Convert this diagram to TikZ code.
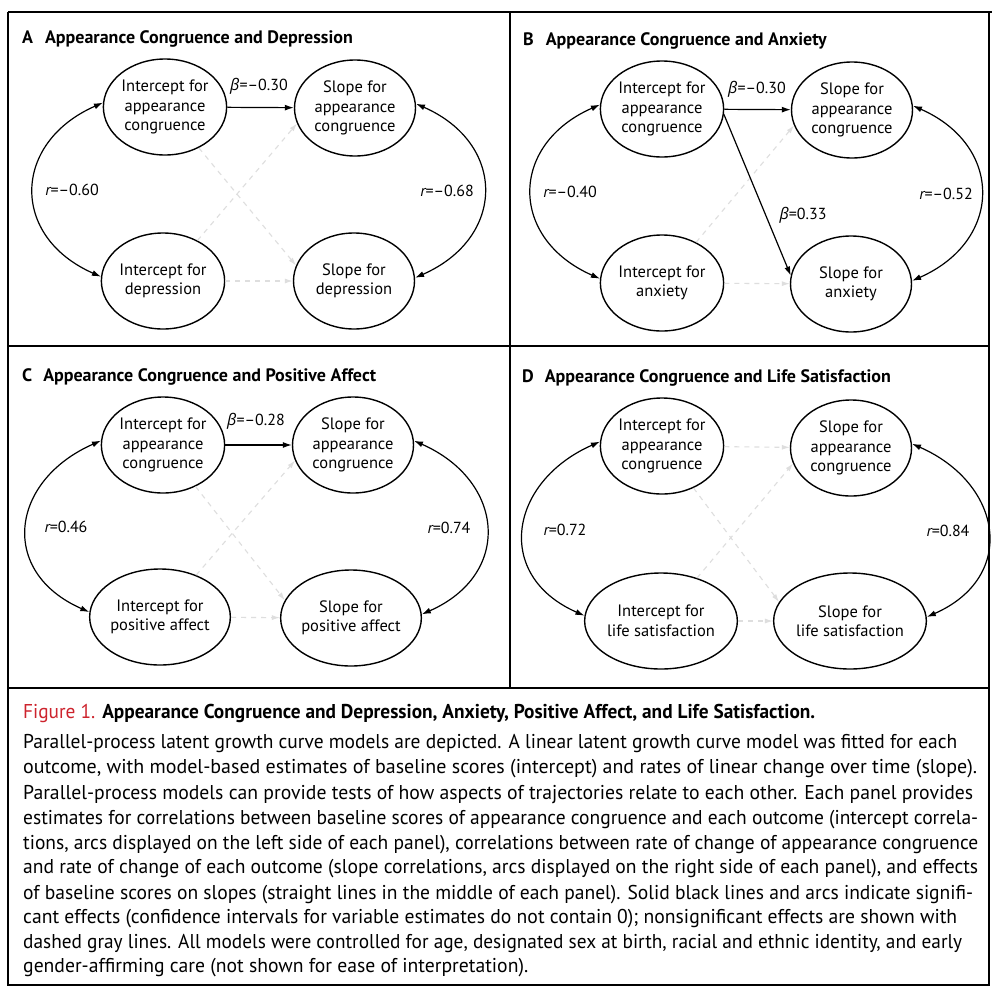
\documentclass[tikz,border=0pt]{standalone}
\usepackage{fontspec}
\usepackage{graphicx}
\setmainfont{PT Sans}
\newfontfamily\grk{Open Sans}
\usetikzlibrary{shapes.geometric,arrows.meta}
\definecolor{figred}{RGB}{205,35,45}
\definecolor{nsgray}{RGB}{222,222,222}
\newcommand\bet{{\grk\itshape β}}
\newcommand\rr{{\itshape r}}
\begin{document}
\begin{tikzpicture}[x=1pt,y=-1pt,
  lv/.style={ellipse, draw, line width=1.4pt, minimum width=121pt, minimum height=96pt, inner sep=0pt, align=center, font=\fontsize{16.5}{19.5}\selectfont},
  sig/.style={line width=1.2pt, -{Latex[length=9pt,width=6pt]}},
  sigarc/.style={line width=1.2pt, {Latex[length=9pt,width=6pt]}-{Latex[length=9pt,width=6pt]}},
  ns/.style={draw=nsgray, line width=1.1pt, dash pattern=on 5pt off 5pt, -{Latex[length=8pt,width=5pt,fill=nsgray]}},
  lab/.style={inner sep=0pt, font=\fontsize{16}{19}\selectfont},
  ttl/.style={anchor=west, inner sep=0pt, font=\bfseries\fontsize{18}{20}\selectfont},
  capl/.style={anchor=mid west, inner sep=0pt, font=\fontsize{20}{24}\selectfont},
  frame/.style={line width=1.1pt},
  heavy/.style={line width=2.2pt}
]
\useasboundingbox (0,0) rectangle (992,996);
\fill[white] (0,0) rectangle (992,996);

% frame
\draw[heavy] (8,12) -- (992,12);
\draw[frame] (8,12) -- (8,985) -- (989,985) -- (989,12);
\draw[frame] (510,12) -- (510,688);
\draw[frame] (8,346) -- (989,346);
\draw[heavy] (8,688) -- (989,688);

% ---------- Panel A ----------
\node[ttl] (ta) at (22,39) {A\hspace{12pt}Appearance Congruence and Depression};
\node[lv] (aIA) at (165,107) {Intercept for\\appearance\\congruence};
\node[lv] (aSA) at (355,108) {Slope for\\appearance\\congruence};
\node[lv] (aIO) at (163,281) {Intercept for\\depression};
\node[lv] (aSO) at (354,281) {Slope for\\depression};
\draw[ns] (aIO) -- (aSA.195);
\draw[ns] (aIA) -- (aSO.165);
\draw[ns] (aIO) -- (aSO);
\draw[sig] (aIA) -- (aSA);
\draw[sigarc] (aIA.176) .. controls +(-91,40) and +(-91,-40) .. (aIO.176);
\draw[sigarc] (aSA.4) .. controls +(91,40) and +(91,-40) .. (aSO.3);
\node[lab] (aB) at (259,86) {\bet=–0.30};
\node[lab] (aR1) at (72,190) {\rr=–0.60};
\node[lab] (aR2) at (447,191) {\rr=–0.68};

% ---------- Panel B ----------
\node[ttl] (tb) at (523,41) {B\hspace{12pt}Appearance Congruence and Anxiety};
\node[lv] (bIA) at (662,109) {Intercept for\\appearance\\congruence};
\node[lv] (bSA) at (852,110) {Slope for\\appearance\\congruence};
\node[lv] (bIO) at (662,283) {Intercept for\\anxiety};
\node[lv] (bSO) at (851,284) {Slope for\\anxiety};
\draw[ns] (bIO) -- (bSA.195);
\draw[ns] (bIO) -- (bSO);
\draw[sig] (bIA) -- (bSA);
\draw[sig] (bIA.-5) -- (bSO.172);
\draw[sigarc] (bIA.176) .. controls +(-91,40) and +(-91,-40) .. (bIO.176);
\draw[sigarc] (bSA.4) .. controls +(91,40) and +(91,-40) .. (bSO.3);
\node[lab] (bB) at (757,89) {\bet=–0.30};
\node[lab] (bB2) at (803,215) {\bet=0.33};
\node[lab] (bR1) at (570,192) {\rr=–0.40};
\node[lab] (bR2) at (946,194) {\rr=–0.52};

% ---------- Panel C ----------
\node[ttl] (tc) at (22,377) {C\hspace{11pt}Appearance Congruence and Positive Affect};
\node[lv] (cIA) at (163,445) {Intercept for\\appearance\\congruence};
\node[lv] (cSA) at (353,445) {Slope for\\appearance\\congruence};
\node[lv] (cIO) at (160,617) {Intercept for\\positive affect};
\node[lv] (cSO) at (351,618) {Slope for\\positive affect};
\draw[ns] (cIO) -- (cSA.195);
\draw[ns] (cIA) -- (cSO.165);
\draw[ns] (cIO) -- (cSO);
\draw[sig] (cIA) -- (cSA);
\draw[sigarc] (cIA.176) .. controls +(-91,40) and +(-91,-40) .. (cIO.176);
\draw[sigarc] (cSA.4) .. controls +(91,40) and +(91,-40) .. (cSO.3);
\node[lab] (cB) at (256,421) {\bet=–0.28};
\node[lab] (cR1) at (66,527) {\rr=0.46};
\node[lab] (cR2) at (449,528) {\rr=0.74};

% ---------- Panel D ----------
\node[ttl] (td) at (522,378) {D\hspace{11pt}Appearance Congruence and Life Satisfaction};
\node[lv] (dIA) at (662,446) {Intercept for\\appearance\\congruence};
\node[lv] (dSA) at (851,448) {Slope for\\appearance\\congruence};
\node[lv] (dIO) at (661,621) {Intercept for\\life satisfaction};
\node[lv] (dSO) at (850,621) {Slope for\\life satisfaction};
\draw[ns] (dIO) -- (dSA.195);
\draw[ns] (dIA) -- (dSO.165);
\draw[ns] (dIA) -- (dSA);
\draw[ns] (dIO) -- (dSO);
\draw[sigarc] (dIA.176) .. controls +(-91,40) and +(-91,-40) .. (dIO.176);
\draw[sigarc] (dSA.4) .. controls +(91,40) and +(91,-40) .. (dSO.3);
\node[lab] (dR1) at (565,530) {\rr=0.72};
\node[lab] (dR2) at (948,531) {\rr=0.84};

% ---------- Caption ----------
\node[capl] (ct) at (23,716) {\resizebox{792pt}{\height}{\textcolor{figred}{Figure 1.} \textbf{Appearance Congruence and Depression, Anxiety, Positive Affect, and Life Satisfaction.}}};
\node[capl] (c1) at (23,746) {\resizebox{934pt}{\height}{Parallel-process latent growth curve models are depicted. A linear latent growth curve model was fitted for each}};
\node[capl] (c2) at (23,771) {\resizebox{954pt}{\height}{outcome, with model-based estimates of baseline scores (intercept) and rates of linear change over time (slope).}};
\node[capl] (c3) at (23,797) {\resizebox{950pt}{\height}{Parallel-process models can provide tests of how aspects of trajectories relate to each other. Each panel provides}};
\node[capl] (c4) at (23,822) {\resizebox{955pt}{\height}{estimates for correlations between baseline scores of appearance congruence and each outcome (intercept correla-}};
\node[capl] (c5) at (23,847) {\resizebox{955pt}{\height}{tions, arcs displayed on the left side of each panel), correlations between rate of change of appearance congruence}};
\node[capl] (c6) at (23,871) {\resizebox{955pt}{\height}{and rate of change of each outcome (slope correlations, arcs displayed on the right side of each panel), and effects}};
\node[capl] (c7) at (23,897) {\resizebox{950pt}{\height}{of baseline scores on slopes (straight lines in the middle of each panel). Solid black lines and arcs indicate signifi-}};
\node[capl] (c8) at (23,921) {\resizebox{934pt}{\height}{cant effects (confidence intervals for variable estimates do not contain 0); nonsignificant effects are shown with}};
\node[capl] (c9) at (23,946) {\resizebox{939pt}{\height}{dashed gray lines. All models were controlled for age, designated sex at birth, racial and ethnic identity, and early}};
\node[capl] (c10) at (23,970) {\resizebox{505pt}{\height}{gender-affirming care (not shown for ease of interpretation).}};
\end{tikzpicture}
\end{document}
